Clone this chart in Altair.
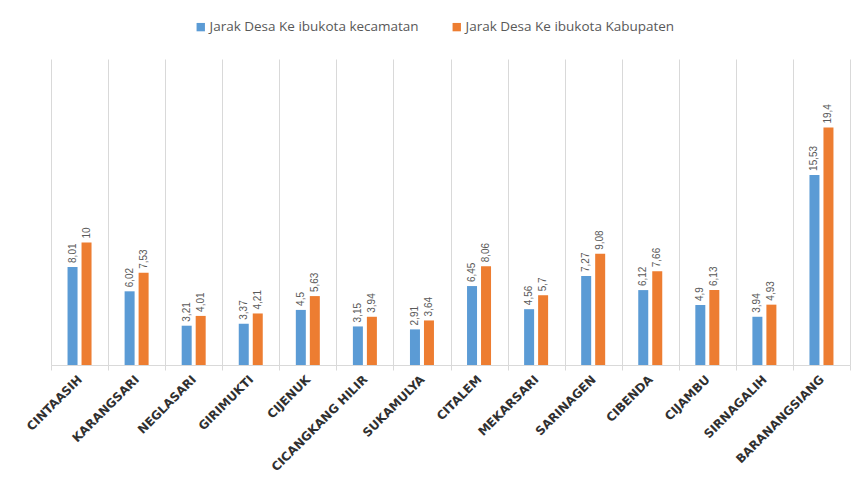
import altair as alt
import pandas as pd

desa = ["CINTAASIH", "KARANGSARI", "NEGLASARI", "GIRIMUKTI", "CIJENUK",
        "CICANGKANG HILIR", "SUKAMULYA", "CITALEM", "MEKARSARI", "SARINAGEN",
        "CIBENDA", "CIJAMBU", "SIRNAGALIH", "BARANANGSIANG"]
ke_kecamatan = [8.01, 6.02, 3.21, 3.37, 4.5, 3.15, 2.91, 6.45, 4.56, 7.27, 6.12, 4.9, 3.94, 15.53]
ke_kabupaten = [10, 7.53, 4.01, 4.21, 5.63, 3.94, 3.64, 8.06, 5.7, 9.08, 7.66, 6.13, 4.93, 19.4]
seri = ["Jarak Desa Ke ibukota kecamatan", "Jarak Desa Ke ibukota Kabupaten"]
warna = ["#5B9BD5", "#ED7D31"]

rows = []
for s, vals in zip(seri, [ke_kecamatan, ke_kabupaten]):
    for d, v in zip(desa, vals):
        rows.append({"desa": d, "seri": s, "nilai": v,
                     "label": f"{v:g}".replace(".", ",")})
df = pd.DataFrame(rows)

base = alt.Chart(df)
x = alt.X("desa:N", sort=desa, title=None,
          scale=alt.Scale(paddingInner=0, paddingOuter=0),
          axis=alt.Axis(labelAngle=-45, labelAlign="right", labelBaseline="middle",
                        labelFont="DejaVu Sans", labelFontWeight="bold", labelFontSize=12,
                        labelColor="#303030", labelPadding=7, grid=True, tickBand="extent",
                        tickSize=5, domainColor="#d9d9d9", gridColor="#d9d9d9",
                        tickColor="#d9d9d9", labelOverlap=False, labelLimit=0))
y = alt.Y("nilai:Q", scale=alt.Scale(domain=[0, 25], nice=False), axis=None)
color = alt.Color("seri:N", scale=alt.Scale(domain=seri, range=warna),
                  legend=alt.Legend(title=None, orient="none", legendX=143, legendY=-39,
                                    direction="horizontal", symbolType="square",
                                    symbolSize=70, symbolStrokeWidth=0,
                                    labelFont="Open Sans", labelFontSize=13.5,
                                    labelColor="#595959", columnPadding=31,
                                    labelOffset=2, labelLimit=0))

layers = []
for s, off in zip(seri, [-7, 7]):
    sub = base.transform_filter(alt.datum.seri == s)
    layers.append(sub.mark_bar(size=10, xOffset=off).encode(x=x, y=y, color=color))
    layers.append(sub.mark_text(angle=270, align="left", baseline="middle", dx=4,
                                xOffset=off, fontSize=10, font="Liberation Sans",
                                color="#595959").encode(x=x, y=y, text="label:N"))

chart = alt.layer(*layers).properties(
    width=799, height=306,
    autosize=alt.AutoSizeParams(type="none"),
    padding={"left": 43, "top": 51, "right": 8, "bottom": 120},
).configure_view(stroke=None)

chart.save("out.html", embed_options={"renderer": "svg", "actions": False})
